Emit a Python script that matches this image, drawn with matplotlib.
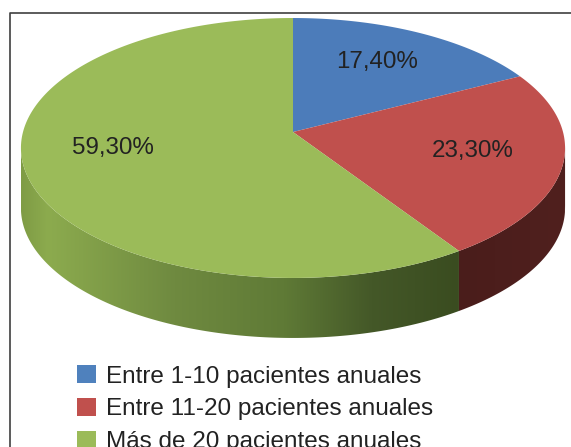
#!/usr/bin/env python3

import numpy as np
import matplotlib
matplotlib.use("Agg")
import matplotlib.pyplot as plt
from matplotlib.patches import Patch, Polygon
from matplotlib.colors import LinearSegmentedColormap

labels = ['Entre 1-10 pacientes anuales', 'Entre 11-20 pacientes anuales', 'Más de 20 pacientes anuales']
values = [17.4, 23.3, 59.3]
value_labels = ['17,40%', '23,30%', '59,30%']
top_colors = ['#4c7cba', '#c0504d', '#9bbb59']
legend_colors = ['#4f81bd', '#c0504d', '#9bbb59']

# pie geometry in pixels (perspective view of a flat disc)
cx, cy = 293, 132
A, B, P = 270, 128, 0.123
depth = 60


def project(theta):
    u, v = np.sin(theta), np.cos(theta)
    w = 1 + P * v
    return cx + A * u / w, cy - B * v / w


def arc(a0, a1, n=200):
    return project(np.linspace(a0, a1, n))


def side_wall(a0, a1, cmap):
    # lower edge of a slice, pushed down by depth and filled with a left-right gradient
    x, y = arc(a0, a1, 400)
    keep = y > cy + 12
    x, y = x[keep], y[keep]
    o = np.argsort(x)
    x, y = x[o], y[o]
    poly = Polygon(np.r_[np.c_[x, y], np.c_[x[::-1], y[::-1] + depth]], closed=True, fc='none', ec='none')
    ax.add_patch(poly)
    im = ax.imshow(np.linspace(0, 1, 256)[None, :], cmap=cmap, extent=[x.min(), x.max(), 447, 0],
                   aspect='auto', zorder=2)
    im.set_clip_path(poly)


fig = plt.figure(figsize=(5.71, 4.47), dpi=100)
ax = fig.add_axes([0, 0, 1, 1])

# frame
ax.plot([10, 10, 571], [447, 13, 13], color='#404040', lw=1.2, zorder=1)

angles = 2 * np.pi * np.cumsum([0] + values) / sum(values)

green_side = LinearSegmentedColormap.from_list('g', [(0, '#7f9c45'), (0.06, '#8cab4e'), (0.35, '#6f8a40'),
                                                     (0.6, '#5f7a36'), (0.8, '#445828'), (1, '#3a4c20')])
red_side = LinearSegmentedColormap.from_list('r', ['#4a1d1b', '#50201e'])
side_wall(angles[2], angles[3], green_side)
side_wall(angles[1], angles[2], red_side)

ax.set_xlim(0, 571)
ax.set_ylim(447, 0)
ax.axis('off')

# top face
for i in range(3):
    x, y = arc(angles[i], angles[i + 1])
    ax.add_patch(Polygon(np.c_[np.r_[cx, x], np.r_[cy, y]], closed=True, fc=top_colors[i], ec='none', zorder=3))

ax.text(377, 62, value_labels[0], fontsize=17.4, family='Liberation Sans', color='#222222', ha='center', va='center', zorder=4)
ax.text(473, 151, value_labels[1], fontsize=17.4, family='Liberation Sans', color='#222222', ha='center', va='center', zorder=4)
ax.text(113, 148, value_labels[2], fontsize=17.4, family='Liberation Sans', color='#222222', ha='center', va='center', zorder=4)

handles = [Patch(fc=c, ec='none') for c in legend_colors]
ax.legend(handles, labels, loc='upper left', bbox_to_anchor=(55 / 571, 1 - 343 / 447), frameon=False,
          prop={'family': 'Liberation Sans', 'size': 17.5}, handlelength=0.79, handleheight=0.79,
          handletextpad=0.41, labelspacing=0.42, labelcolor='#222222')

fig.savefig('out.png', dpi=100)
